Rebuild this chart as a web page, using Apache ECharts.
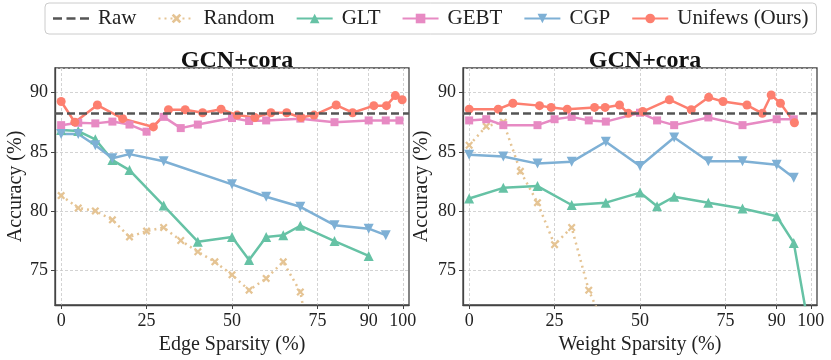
<!DOCTYPE html>
<html>
<head>
<meta charset="utf-8">
<script src="https://cdn.jsdelivr.net/npm/echarts@6/dist/echarts.min.js"></script>
<style>
  html, body { margin: 0; padding: 0; background: #fff; }
  #chart { width: 831px; height: 360px; }
</style>
</head>
<body>
<div id="chart"></div>
<script>
// raw accuracy (dashed reference line)
var rawAcc = 88.25;

// x tick labels
var xTicks = [0, 25, 50, 75, 90, 100];

// left panel: edge sparsity
var edgeRandomX = [0, 5, 10, 15, 20, 25, 30, 35, 40, 45, 50, 55, 60, 65, 70, 75];
var edgeRandomY = [81.3, 80.25, 80.0, 79.25, 77.8, 78.3, 78.6, 77.5, 76.55, 75.7, 74.6, 73.3, 74.3, 75.7, 73.15, 65.5];
var edgeGltX = [0, 5, 10, 15, 20, 30, 40, 50, 55, 60, 65, 70, 80, 90];
var edgeGltY = [86.85, 86.75, 86.05, 84.3, 83.45, 80.45, 77.4, 77.8, 75.85, 77.8, 77.95, 78.75, 77.45, 76.2];
var edgeGebtX = [0, 5, 10, 15, 20, 25, 30, 35, 40, 50, 55, 60, 70, 80, 90, 95, 99];
var edgeGebtY = [87.25, 87.45, 87.4, 87.55, 87.3, 86.7, 87.95, 87.0, 87.3, 87.85, 87.6, 87.65, 87.8, 87.5, 87.65, 87.65, 87.65];
var edgeCgpX = [0, 5, 10, 15, 20, 30, 50, 60, 70, 80, 90, 95];
var edgeCgpY = [86.5, 86.5, 85.55, 84.45, 84.8, 84.2, 82.25, 81.2, 80.35, 78.8, 78.5, 77.95];
var edgeUniX = [0, 4, 10.6, 18, 27, 31.4, 36.3, 41.4, 46.8, 51.5, 56.7, 61.4, 66, 70.2, 74, 80.5, 85.3, 91.5, 95.2, 97.8, 99.8];
var edgeUniY = [89.25, 87.5, 88.95, 87.8, 87.1, 88.55, 88.55, 88.3, 88.6, 88.1, 87.9, 88.3, 88.3, 87.9, 88.1, 88.95, 88.3, 88.9, 88.9, 89.75, 89.4];

// right panel: weight sparsity
var wRandomX = [0, 5, 10, 15, 20, 25, 30, 35, 40];
var wRandomY = [85.55, 87.15, 87.5, 83.35, 80.7, 77.15, 78.6, 73.3, 70.0];
var wGltX = [0, 10, 20, 30, 40, 50, 55, 60, 70, 80, 90, 95, 99];
var wGltY = [81.05, 81.95, 82.1, 80.5, 80.7, 81.55, 80.4, 81.2, 80.7, 80.2, 79.55, 77.3, 70.8];
var wGebtX = [0, 5, 10, 20, 25, 30, 35, 40, 50, 55, 60, 70, 80, 90, 95];
var wGebtY = [87.65, 87.75, 87.25, 87.25, 87.75, 87.95, 87.65, 87.55, 88.3, 87.65, 87.25, 87.9, 87.25, 87.75, 87.75];
var wCgpX = [0, 10, 20, 30, 40, 50, 60, 70, 80, 90, 95];
var wCgpY = [84.75, 84.6, 84.0, 84.15, 85.85, 83.8, 86.2, 84.2, 84.2, 83.9, 82.8];
var wUniX = [0, 8.5, 12.8, 20.6, 24, 28.7, 36.7, 39.8, 44, 46.6, 50.8, 58.6, 65, 70.1, 74.3, 81.3, 85.8, 88.4, 91.1, 95.2];
var wUniY = [88.6, 88.6, 89.1, 88.9, 88.75, 88.6, 88.75, 88.75, 88.95, 88.25, 88.4, 89.4, 88.55, 89.6, 89.25, 88.95, 88.25, 89.8, 89.1, 87.45];

var FONT = '"Liberation Serif", "DejaVu Serif", serif';
var C_RAW = '#555555', C_RAND = '#e5c494', C_GLT = '#66c2a5', C_GEBT = '#e78ac3', C_CGP = '#7eb0d5', C_UNI = '#fd7f6f';
var X_SHAPE = 'path://M2,0 L5,3 L8,0 L10,2 L7,5 L10,8 L8,10 L5,7 L2,10 L0,8 L3,5 L0,2 Z';
var DASH_ICON = 'path://M0,0 H9 V2.4 H0 Z M13.5,0 H22.5 V2.4 H13.5 Z M27,0 H36 V2.4 H27 Z';

function zip(xs, ys) {
    var out = [];
    for (var i = 0; i < xs.length; i++) out.push([xs[i], ys[i]]);
    return out;
}

function makeSeries(idx, d) {
    var common = { type: 'line', xAxisIndex: idx, yAxisIndex: idx, animation: false, clip: true };
    return [
        Object.assign({}, common, {
            name: 'Raw', data: [], symbol: 'none',
            lineStyle: { color: C_RAW, width: 2.5, type: [8, 4] }, itemStyle: { color: C_RAW },
            markLine: { silent: true, symbol: 'none', label: { show: false },
                lineStyle: { color: C_RAW, width: 2.5, type: [8, 4] },
                data: [{ yAxis: rawAcc }] }
        }),
        Object.assign({}, common, {
            name: 'Random', data: zip(d.randX, d.randY), symbol: X_SHAPE, symbolSize: 8,
            lineStyle: { color: C_RAND, width: 2.5, type: [2, 4] }, itemStyle: { color: C_RAND }
        }),
        Object.assign({}, common, {
            name: 'GLT', data: zip(d.gltX, d.gltY), symbol: 'triangle', symbolSize: 10,
            lineStyle: { color: C_GLT, width: 2.5 }, itemStyle: { color: C_GLT }
        }),
        Object.assign({}, common, {
            name: 'GEBT', data: zip(d.gebtX, d.gebtY), symbol: 'rect', symbolSize: 8,
            lineStyle: { color: C_GEBT, width: 2.5 }, itemStyle: { color: C_GEBT }
        }),
        Object.assign({}, common, {
            name: 'CGP', data: zip(d.cgpX, d.cgpY), symbol: 'triangle', symbolRotate: 180, symbolSize: 10,
            lineStyle: { color: C_CGP, width: 2.5 }, itemStyle: { color: C_CGP }
        }),
        Object.assign({}, common, {
            name: 'Unifews (Ours)', data: zip(d.uniX, d.uniY), symbol: 'circle', symbolSize: 9,
            lineStyle: { color: C_UNI, width: 2.5 }, itemStyle: { color: C_UNI }
        })
    ];
}

function makeX(idx, name) {
    return {
        type: 'value', gridIndex: idx, min: -1.8, max: 101.8,
        name: name, nameLocation: 'middle', nameGap: 30,
        nameTextStyle: { fontFamily: FONT, fontSize: 20, color: '#222' },
        axisLine: { show: true, onZero: false, lineStyle: { color: '#444', width: 1.3 } },
        axisTick: { show: true, length: 4, customValues: xTicks, lineStyle: { color: '#444' } },
        axisLabel: { customValues: xTicks, margin: 7, fontFamily: FONT, fontSize: 18, color: '#222' },
        splitLine: { show: true, lineStyle: { color: '#c8c8c8', width: 0.8, type: [3, 2] } }
    };
}

function makeY(idx, gap) {
    return {
        type: 'value', gridIndex: idx, min: 72.05, max: 92.08,
        name: 'Accuracy (%)', nameLocation: 'middle', nameGap: gap,
        nameTextStyle: { fontFamily: FONT, fontSize: 20, color: '#222' },
        axisLine: { show: true, onZero: false, lineStyle: { color: '#444', width: 1.3 } },
        axisTick: { show: true, length: 4, lineStyle: { color: '#444' } },
        axisLabel: { margin: 7, fontFamily: FONT, fontSize: 18, color: '#222',
            showMinLabel: false, showMaxLabel: false,
            formatter: function (v) { return (Math.abs(v % 5) < 1e-6) ? String(v) : ''; } },
        splitLine: { show: true, lineStyle: { color: '#c8c8c8', width: 0.8, type: [3, 2] } }
    };
}

var series = makeSeries(0, {
    randX: edgeRandomX, randY: edgeRandomY, gltX: edgeGltX, gltY: edgeGltY,
    gebtX: edgeGebtX, gebtY: edgeGebtY, cgpX: edgeCgpX, cgpY: edgeCgpY, uniX: edgeUniX, uniY: edgeUniY
}).concat(makeSeries(1, {
    randX: wRandomX, randY: wRandomY, gltX: wGltX, gltY: wGltY,
    gebtX: wGebtX, gebtY: wGebtY, cgpX: wCgpX, cgpY: wCgpY, uniX: wUniX, uniY: wUniY
}));

var option = {
    backgroundColor: '#fff',
    animation: false,
    title: [
        { text: 'GCN+cora', left: 232, top: 44, textAlign: 'center',
          textStyle: { fontFamily: FONT, fontSize: 24, fontWeight: 'bold', color: '#111' } },
        { text: 'GCN+cora', left: 640, top: 44, textAlign: 'center',
          textStyle: { fontFamily: FONT, fontSize: 24, fontWeight: 'bold', color: '#111' } }
    ],
    legend: {
        left: 45, top: 3, itemGap: 21, itemWidth: 36, itemHeight: 12,
        padding: [5, 8], borderColor: '#cccccc', borderWidth: 1, borderRadius: 4,
        textStyle: { fontFamily: FONT, fontSize: 21, color: '#222', padding: [0, 0, 0, 4] },
        data: [
            { name: 'Raw', icon: DASH_ICON, itemStyle: { color: C_RAW } },
            'Random', 'GLT', 'GEBT', 'CGP', 'Unifews (Ours)'
        ]
    },
    grid: [
        { left: 55, top: 68, width: 354, height: 237, show: true, borderColor: '#444', borderWidth: 1.3 },
        { left: 463, top: 68, width: 354, height: 237, show: true, borderColor: '#444', borderWidth: 1.3 }
    ],
    xAxis: [makeX(0, 'Edge Sparsity (%)'), makeX(1, 'Weight Sparsity (%)')],
    yAxis: [makeY(0, 29), makeY(1, 31)],
    series: series
};

var myChart = echarts.init(document.getElementById('chart'), null, { renderer: 'canvas' });
myChart.setOption(option);
</script>
</body>
</html>
